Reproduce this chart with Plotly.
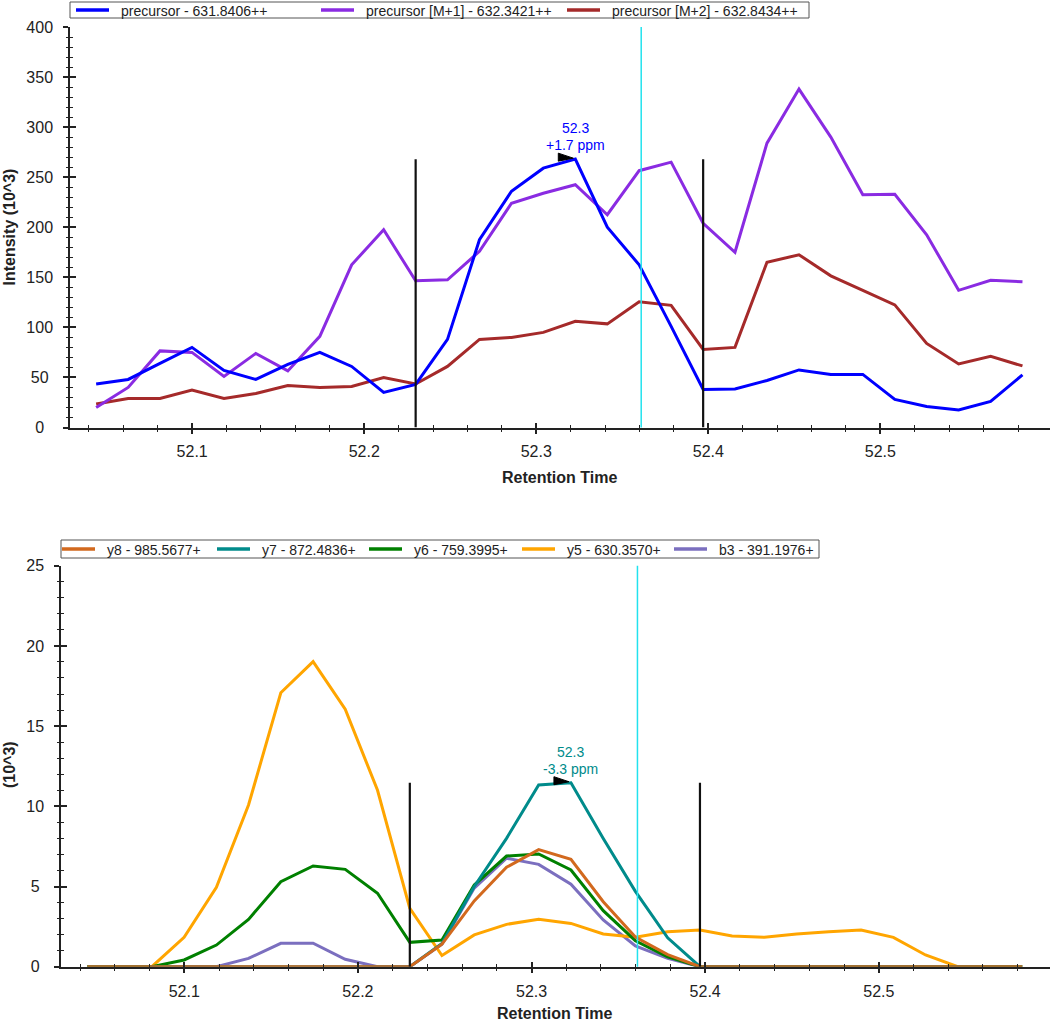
import plotly.graph_objects as go

# ---------------- data ----------------
rt = [52.0442, 52.0628, 52.0813, 52.0999, 52.1185, 52.1370, 52.1556, 52.1742, 52.1927, 52.2113,
      52.2299, 52.2484, 52.2670, 52.2856, 52.3041, 52.3227, 52.3413, 52.3598, 52.3784, 52.3970,
      52.4155, 52.4341, 52.4527, 52.4712, 52.4898, 52.5084, 52.5269, 52.5455, 52.5641, 52.5826]

precursor_names = ["precursor - 631.8406++", "precursor [M+1] - 632.3421++", "precursor [M+2] - 632.8434++"]
precursor = [43.5, 48, 64, 80, 57, 48, 63, 75, 61, 35, 43, 88, 187.5, 236, 259, 268, 200, 162.5, 101, 38,
             38.5, 47, 57.5, 53, 53, 28, 21, 17.5, 26, 52.5]
precursor_m1 = [20, 40, 76.5, 75, 51, 74, 56.5, 91, 162.5, 197.5, 146.5, 147.5, 176, 224, 234, 242.5, 212.5,
                256.5, 265, 204, 175, 284, 338, 290, 232.5, 233, 192.5, 137, 147, 145.5]
precursor_m2 = [23.5, 29, 29, 37.5, 29, 34, 42, 40, 41, 50, 43.5, 61, 88, 90, 95, 106, 103.5, 125.5, 122, 78,
                80, 165, 172.5, 151.5, 137, 122.5, 84, 63.5, 71, 61.5]

fragment_names = ["y8 - 985.5677+", "y7 - 872.4836+", "y6 - 759.3995+", "y5 - 630.3570+", "b3 - 391.1976+"]
y8 = [0, 0, 0, 0, 0, 0, 0, 0, 0, 0, 0, 1.4, 4.1, 6.2, 7.3, 6.7, 4.05, 1.85, 0.75, 0,
      0, 0, 0, 0, 0, 0, 0, 0, 0, 0]
y7 = [0, 0, 0, 0, 0, 0, 0, 0, 0, 0, 0, 1.45, 5.0, 8.0, 11.33, 11.47, 8.0, 4.7, 1.8, 0,
      0, 0, 0, 0, 0, 0, 0, 0, 0, 0]
y6 = [0, 0, 0, 0.42, 1.35, 2.95, 5.3, 6.28, 6.07, 4.58, 1.52, 1.66, 5.09, 6.9, 7.03, 6.03, 3.49, 1.62, 0.62, 0,
      0, 0, 0, 0, 0, 0, 0, 0, 0, 0]
y5 = [0, 0, 0, 1.83, 4.95, 10.08, 17.08, 19.02, 16.05, 11.0, 3.64, 0.7, 1.98, 2.64, 2.95, 2.7, 2.04, 1.83, 2.18, 2.29,
      1.91, 1.83, 2.04, 2.18, 2.29, 1.83, 0.73, 0, 0, 0]
b3 = [0, 0, 0, 0, 0, 0.52, 1.46, 1.46, 0.46, 0, 0, 1.4, 4.9, 6.76, 6.38, 5.14, 2.91, 1.29, 0.52, 0,
      0, 0, 0, 0, 0, 0, 0, 0, 0, 0]

peak_start = 52.2299
peak_end = 52.3970
id_time = 52.3610
precursor_ppm = 1.7
fragment_ppm = -3.3

top_yticks = [0, 50, 100, 150, 200, 250, 300, 350, 400]
bottom_yticks = [0, 5, 10, 15, 20, 25]

# ---------------- styles ----------------
W, H = 1050, 1022
FONT = "Liberation Sans, Arial, sans-serif"
AX = "#222222"
prec_colors = ["#0000FF", "#8A2BE2", "#A52A2A"]
frag_colors = ["#D2691E", "#008B8B", "#008000", "#FFA500", "#7B6FBF"]
CYAN = "#22E2EE"


def px(x):
    return x / W


def py(y):
    return 1 - y / H


fig = go.Figure()

prec_series = [precursor, precursor_m1, precursor_m2]
frag_series = [y8, y7, y6, y5, b3]

# later series drawn first so that the first series ends on top
for name, vals, col in reversed(list(zip(precursor_names, prec_series, prec_colors))):
    fig.add_trace(go.Scatter(x=rt, y=vals, mode="lines", name=name, line=dict(color=col, width=3),
                             xaxis="x", yaxis="y", showlegend=False))
for name, vals, col in reversed(list(zip(fragment_names, frag_series, frag_colors))):
    fig.add_trace(go.Scatter(x=rt, y=vals, mode="lines", name=name, line=dict(color=col, width=3),
                             xaxis="x2", yaxis="y2", showlegend=False))

# empty traces so the overlay axes (inner half of the crossing ticks) are drawn
for xa, ya in (("x3", "y3"), ("x4", "y4")):
    fig.add_trace(go.Scatter(x=[None], y=[None], xaxis=xa, yaxis=ya, showlegend=False, hoverinfo="skip"))

XR = [52.029, 52.5986]


def pad_labels(vals):
    n = max(len(str(v)) for v in vals)
    return [str(v) + "\u00a0" * (n - len(str(v))) for v in vals]


def xaxis_main(domain, anchor):
    return dict(domain=domain, anchor=anchor, range=XR, tick0=52.0, dtick=0.1, ticks="outside",
                ticklen=5, tickwidth=1.5, tickcolor=AX, showline=True, linecolor=AX, linewidth=1.5,
                showgrid=False, zeroline=False, automargin=False,
                tickfont=dict(family=FONT, size=16, color=AX), ticklabelstandoff=4,
                minor=dict(tick0=52.0, dtick=0.02, ticks="outside", ticklen=2.5, tickwidth=1, tickcolor=AX))


def xaxis_inner(over, anchor):
    return dict(overlaying=over, anchor=anchor, range=XR, tick0=52.0, dtick=0.1, ticks="inside",
                ticklen=5, tickwidth=1.5, tickcolor=AX, showline=False, showgrid=False, zeroline=False,
                showticklabels=False, automargin=False,
                minor=dict(tick0=52.0, dtick=0.02, ticks="inside", ticklen=2.5, tickwidth=1, tickcolor=AX))


def yaxis_main(domain, anchor, rng, ticks, mdt):
    return dict(domain=domain, anchor=anchor, range=rng, tickmode="array", tickvals=ticks,
                ticktext=pad_labels(ticks), ticks="outside", ticklen=5, tickwidth=1.5, tickcolor=AX,
                showline=True, linecolor=AX, linewidth=1.5, showgrid=False, zeroline=False,
                automargin=False, tickfont=dict(family=FONT, size=16, color=AX), ticklabelstandoff=7,
                minor=dict(tick0=0, dtick=mdt, ticks="outside", ticklen=2.5, tickwidth=1, tickcolor=AX))


def yaxis_inner(over, anchor, rng, ticks, mdt):
    return dict(overlaying=over, anchor=anchor, range=rng, tickmode="array", tickvals=ticks,
                ticks="inside", ticklen=6, tickwidth=1.5, tickcolor=AX, showline=False, showgrid=False,
                zeroline=False, showticklabels=False, automargin=False,
                minor=dict(tick0=0, dtick=mdt, ticks="inside", ticklen=2.5, tickwidth=1, tickcolor=AX))


top_dom_x = [px(70), 1.0]
top_dom_y = [py(427.5), py(27)]
bot_dom_x = [px(61), 1.0]
bot_dom_y = [py(966.7), py(565.7)]

fig.update_layout(
    template="none",
    width=W, height=H, autosize=False, margin=dict(l=0, r=0, t=0, b=0, pad=0),
    paper_bgcolor="white", plot_bgcolor="white", showlegend=False,
    font=dict(family=FONT, color=AX),
    xaxis=xaxis_main(top_dom_x, "y"),
    yaxis=yaxis_main(top_dom_y, "x", [0, 400], top_yticks, 10),
    xaxis2=xaxis_main(bot_dom_x, "y2"),
    yaxis2=yaxis_main(bot_dom_y, "x2", [0, 25], bottom_yticks, 1),
    xaxis3=xaxis_inner("x", "y3"),
    yaxis3=yaxis_inner("y", "x3", [0, 400], top_yticks, 10),
    xaxis4=xaxis_inner("x2", "y4"),
    yaxis4=yaxis_inner("y2", "x4", [0, 25], bottom_yticks, 1),
)

shapes = []
annotations = []

# peak boundaries, identification time, apex marker and apex label
for xr, yr, series, col, ppm in (("x", "y", precursor, prec_colors[0], precursor_ppm),
                                  ("x2", "y2", y7, frag_colors[1], fragment_ppm)):
    top = max(series)
    i_apex = series.index(top)
    t_apex = rt[i_apex]
    for t in (peak_start, peak_end):
        shapes.append(dict(type="line", xref=xr, yref=yr, x0=t, x1=t, y0=0, y1=top,
                           line=dict(color="#111111", width=2.2)))
    shapes.append(dict(type="line", xref=xr, yref=yr + " domain", x0=id_time, x1=id_time, y0=0, y1=1,
                       line=dict(color=CYAN, width=1.5)))
    shapes.append(dict(type="path", xref=xr, yref=yr, xsizemode="pixel", ysizemode="pixel",
                       xanchor=t_apex, yanchor=top, path="M -17 6 L -17 -2 L -2 1 Z",
                       fillcolor="black", line=dict(color="black", width=1)))
    annotations.append(dict(xref=xr, yref=yr, x=t_apex, y=top, text=f"{t_apex:.1f}", showarrow=False,
                            xanchor="center", yanchor="middle", yshift=31,
                            font=dict(family=FONT, size=14, color=col)))
    annotations.append(dict(xref=xr, yref=yr, x=t_apex, y=top, text=f"{ppm:+.1f} ppm", showarrow=False,
                            xanchor="center", yanchor="middle", yshift=14,
                            font=dict(family=FONT, size=14, color=col)))

# legends: bordered box with line samples
legend_specs = [
    (precursor_names, prec_colors, (70, 2, 809, 18), [119, 364, 610]),
    (fragment_names, frag_colors, (61, 540, 819, 558), [105, 260, 412, 565, 717]),
]
for names, cols, box, text_x in legend_specs:
    x0, y0, x1, y1 = box
    yc = (y0 + y1) / 2
    shapes.append(dict(type="rect", xref="paper", yref="paper", x0=px(x0), x1=px(x1), y0=py(y1), y1=py(y0),
                       line=dict(color="#555555", width=1), fillcolor="white"))
    for name, col, tx in zip(names, cols, text_x):
        shapes.append(dict(type="line", xref="paper", yref="paper", x0=px(tx - 43), x1=px(tx - 10),
                           y0=py(yc), y1=py(yc), line=dict(color=col, width=3.5)))
        annotations.append(dict(xref="paper", yref="paper", x=px(tx), y=py(yc + 0.5), text=name,
                                showarrow=False, xanchor="left", yanchor="middle",
                                font=dict(family=FONT, size=14, color=AX)))

# axis titles
annotations.append(dict(xref="paper", yref="paper", x=px(9), y=py(227.5), text="<b>Intensity (10^3)</b>",
                        textangle=-90, showarrow=False, xanchor="center", yanchor="middle",
                        font=dict(family=FONT, size=16, color=AX)))
annotations.append(dict(xref="paper", yref="paper", x=px(9), y=py(765), text="<b>(10^3)</b>",
                        textangle=-90, showarrow=False, xanchor="center", yanchor="middle",
                        font=dict(family=FONT, size=16, color=AX)))
annotations.append(dict(xref="paper", yref="paper", x=px(559), y=py(477), text="<b>Retention Time</b>",
                        showarrow=False, xanchor="center", yanchor="middle",
                        font=dict(family=FONT, size=16, color=AX)))
annotations.append(dict(xref="paper", yref="paper", x=px(554), y=py(1013), text="<b>Retention Time</b>",
                        showarrow=False, xanchor="center", yanchor="middle",
                        font=dict(family=FONT, size=16, color=AX)))

fig.update_layout(shapes=shapes, annotations=annotations)

fig.write_html("out.html", include_plotlyjs=True, full_html=True,
               default_width="1050px", default_height="1022px",
               config={"displayModeBar": False, "responsive": False},
               post_script="document.body.style.margin='0';document.body.style.overflow='hidden';")
